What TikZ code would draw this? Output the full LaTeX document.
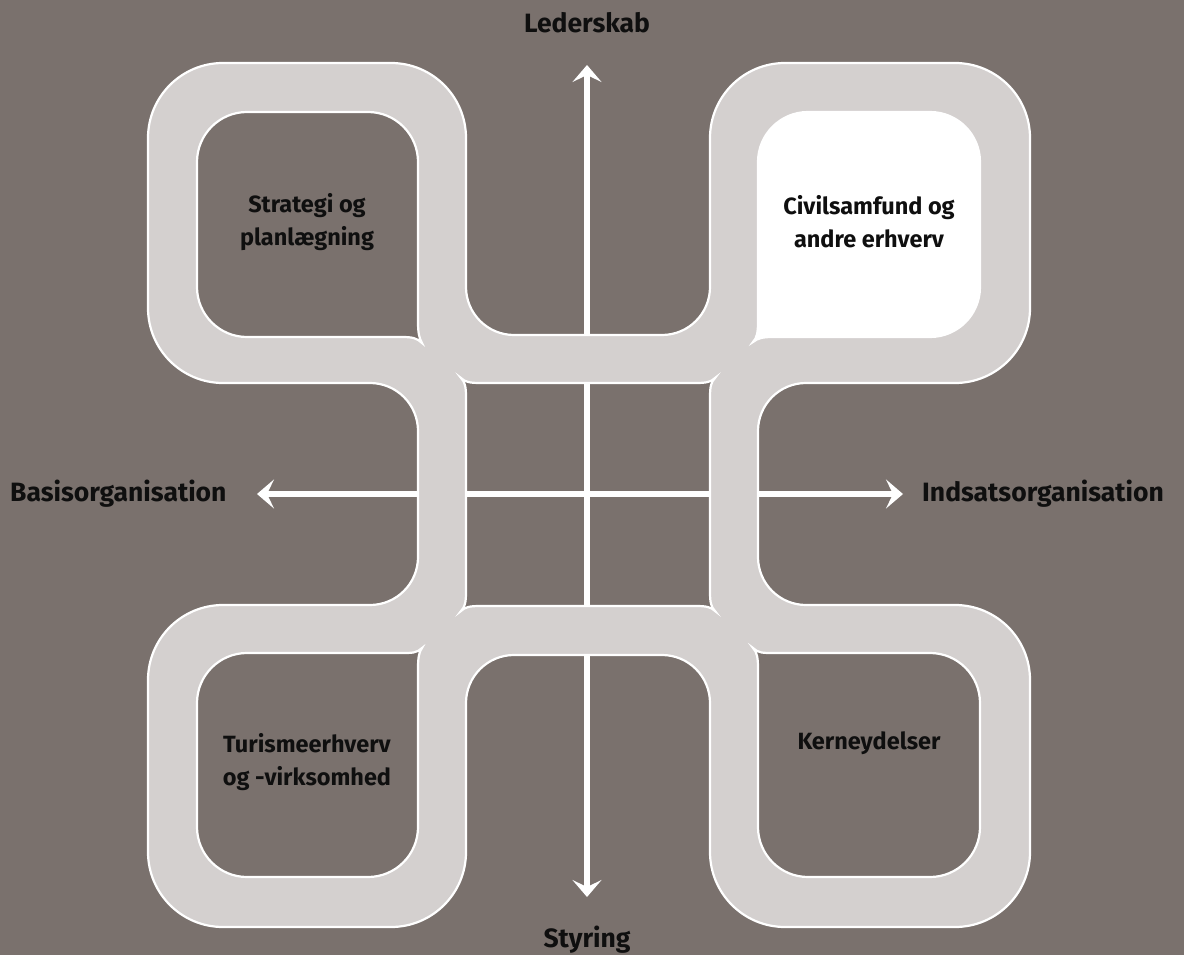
\documentclass[tikz,border=0pt]{standalone}
\usepackage{fontspec}
\setmainfont{Fira Sans}
\usetikzlibrary{arrows.meta}
\definecolor{bgc}{RGB}{122,113,109}
\definecolor{ringc}{RGB}{212,208,207}
\definecolor{txtc}{RGB}{15,15,15}
\tikzset{
  axis/.style={draw=white, line width=6pt,
    {Stealth[length=17pt,width=29pt,inset=7pt]}-{Stealth[length=17pt,width=29pt,inset=7pt]}},
  label/.style={text=txtc, font=\fontsize{26.5}{33}\selectfont\bfseries, align=center, inner sep=0pt},
  field/.style={label, font=\fontsize{23.5}{33}\selectfont\bfseries},
  ring/.style={fill=ringc, draw=white, line width=2.2pt, even odd rule},
}
\begin{document}
\begin{tikzpicture}[x=1pt,y=-1pt]
\useasboundingbox (0,0) rectangle (1184,955);
\fill[bgc] (0,0) rectangle (1184,955);

% axis end points
\coordinate (top) at (587,65);
\coordinate (bottom) at (587,897);
\coordinate (left) at (257,494);
\coordinate (right) at (903,494);
\draw[axis] (top) -- (bottom);
\draw[axis] (left) -- (right);

% light grey frame with its five openings
\path[ring]
  (223,63) -- (391,63) arc[start angle=-90,end angle=0,radius=75]
  -- (466,287) arc[start angle=180,end angle=90,radius=48]
  -- (662,335) arc[start angle=90,end angle=0,radius=48]
  -- (710,138) arc[start angle=180,end angle=270,radius=75]
  -- (955,63) arc[start angle=-90,end angle=0,radius=75]
  -- (1030,308) arc[start angle=0,end angle=90,radius=75]
  -- (806,383) arc[start angle=270,end angle=180,radius=48]
  -- (758,557) arc[start angle=180,end angle=90,radius=48]
  -- (955,605) arc[start angle=270,end angle=360,radius=75]
  -- (1030,852) arc[start angle=0,end angle=90,radius=75]
  -- (785,927) arc[start angle=90,end angle=180,radius=75]
  -- (710,703) arc[start angle=0,end angle=-90,radius=48]
  -- (514,655) arc[start angle=-90,end angle=-180,radius=48]
  -- (466,852) arc[start angle=0,end angle=90,radius=75]
  -- (223,927) arc[start angle=90,end angle=180,radius=75]
  -- (148,680) arc[start angle=180,end angle=270,radius=75]
  -- (370,605) arc[start angle=90,end angle=0,radius=48]
  -- (418,431) arc[start angle=0,end angle=-90,radius=48]
  -- (223,383) arc[start angle=90,end angle=180,radius=75]
  -- (148,138) arc[start angle=180,end angle=270,radius=75]
  -- cycle
  % upper left opening
  (422,343) .. controls (417,338) and (412,337) .. (402,337) -- (247,337)
  arc[start angle=90,end angle=180,radius=50] -- (197,162)
  arc[start angle=180,end angle=270,radius=50] -- (368,112)
  arc[start angle=270,end angle=360,radius=50] -- (418,322)
  .. controls (418,332) and (419,338) .. (422,343) -- cycle
  % upper right opening
  (753,342) .. controls (758,338) and (763,337) .. (773,337) -- (930,337)
  arc[start angle=90,end angle=0,radius=50] -- (980,162)
  arc[start angle=0,end angle=-90,radius=50] -- (808,112)
  arc[start angle=-90,end angle=-180,radius=50] -- (758,322)
  .. controls (758,332) and (757,338) .. (753,342) -- cycle
  % lower left opening
  (422,648) .. controls (417,653) and (412,653) .. (402,653) -- (247,653)
  arc[start angle=-90,end angle=-180,radius=50] -- (197,827)
  arc[start angle=180,end angle=90,radius=50] -- (368,877)
  arc[start angle=90,end angle=0,radius=50] -- (418,668)
  .. controls (418,658) and (419,652) .. (422,648) -- cycle
  % lower right opening
  (753,648) .. controls (758,653) and (763,653) .. (773,653) -- (930,653)
  arc[start angle=-90,end angle=0,radius=50] -- (980,827)
  arc[start angle=0,end angle=90,radius=50] -- (808,877)
  arc[start angle=90,end angle=180,radius=50] -- (758,668)
  .. controls (758,658) and (757,652) .. (753,648) -- cycle
  % centre opening
  (461,378) .. controls (465,382) and (470,383) .. (480,383) -- (696,383)
  .. controls (706,383) and (711,382) .. (715,378)
  .. controls (711,382) and (710,387) .. (710,397) -- (710,592)
  .. controls (710,602) and (711,607) .. (715,611)
  .. controls (711,607) and (706,606) .. (696,606) -- (480,606)
  .. controls (470,606) and (465,607) .. (461,611)
  .. controls (465,607) and (466,602) .. (466,592) -- (466,397)
  .. controls (466,387) and (465,382) .. (461,378) -- cycle;

% highlighted field
\fill[white]
  (753,342) .. controls (758,338) and (763,337) .. (773,337) -- (930,337)
  arc[start angle=90,end angle=0,radius=50] -- (980,162)
  arc[start angle=0,end angle=-90,radius=50] -- (808,112)
  arc[start angle=-90,end angle=-180,radius=50] -- (758,322)
  .. controls (758,332) and (757,338) .. (753,342) -- cycle;

% axis labels
\node[label] (lead) at (587,23) {Lederskab};
\node[label] (steer) at (587,940) {Styring};
\node[label, anchor=west] (basis) at (10,494) {Basisorganisation};
\node[label, anchor=west] (effort) at (922,494) {Indsatsorganisation};

% field labels
\node[field] (strat) at (307,222) {Strategi og\\planlægning};
\node[field] (civil) at (869,222) {Civilsamfund og\\andre erhverv};
\node[field] (tour) at (307,762) {Turismeerhverv\\og -virksomhed};
\node[field] (core) at (869,743) {Kerneydelser};
\end{tikzpicture}
\end{document}
